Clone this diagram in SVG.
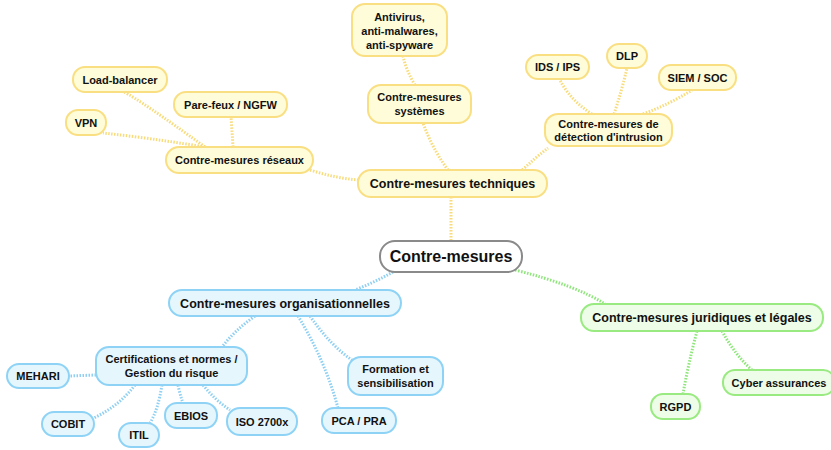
<svg xmlns="http://www.w3.org/2000/svg" width="831" height="450" viewBox="0 0 831 450">
<style>
text{font-family:"Liberation Sans",Arial,sans-serif;font-weight:bold;fill:#111;text-anchor:middle}
.y rect{fill:#fefcd9;stroke:#f9df82;stroke-width:2}
.b rect{fill:#e5f6fd;stroke:#8ed3f6;stroke-width:2}
.g rect{fill:#edfde7;stroke:#99ea80;stroke-width:2}
.r rect{fill:#fff;stroke:#8a8a8a;stroke-width:2}
.t16{font-size:16px}.t13{font-size:12.5px}.t11{font-size:11px}
#connectors path{fill:none;stroke-width:3;stroke-dasharray:1.5 1.5}
.cy{stroke:#f8dc7c}.cb{stroke:#8fd0f2}.cg{stroke:#8ee67a}
</style>
<g id="connectors">
<path class="cy" d="M451 197 L451 241"/>
<path class="cy" d="M310 170 Q335 178 358 180"/>
<path class="cy" d="M520 172 Q535 158 548 148"/>
<path class="cy" d="M448 170 Q432 148 423 123"/>
<path class="cy" d="M415 85 Q406 70 403 56"/>
<path class="cy" d="M205 147 Q140 100 124 92"/>
<path class="cy" d="M205 147 Q150 138 103 133"/>
<path class="cy" d="M233 147 Q232 130 231 117"/>
<path class="cy" d="M592 114 Q570 100 560 80"/>
<path class="cy" d="M614 114 Q622 90 627 68"/>
<path class="cy" d="M643 114 Q670 104 692 90"/>
<path class="cb" d="M393 272 Q375 282 355 290"/>
<path class="cb" d="M255 316 Q235 330 222 347"/>
<path class="cb" d="M298 316 Q325 360 338 408"/>
<path class="cb" d="M310 316 Q330 345 352 360"/>
<path class="cb" d="M96 375 L69 376"/>
<path class="cb" d="M135 385 Q120 405 94 418"/>
<path class="cb" d="M162 385 Q158 410 150 423"/>
<path class="cb" d="M178 385 Q180 395 183 403"/>
<path class="cb" d="M203 385 Q215 400 230 410"/>
<path class="cg" d="M515 270 Q575 285 605 304"/>
<path class="cg" d="M697 331 Q688 365 683 394"/>
<path class="cg" d="M722 331 Q735 355 752 370"/>
</g>
<g id="root" class="r"><rect x="380" y="241" width="142" height="31" rx="15"/><text class="t16" x="451" y="262">Contre-mesures</text></g>
<g id="techniques" class="y"><rect x="358" y="170" width="189" height="27" rx="13"/><text class="t13" x="452.5" y="188">Contre-mesures techniques</text></g>
<g id="systemes" class="y"><rect x="368" y="85" width="103" height="38" rx="13"/><text class="t11" x="419.5" y="101">Contre-mesures</text><text class="t11" x="419.5" y="115">systèmes</text></g>
<g id="antivirus" class="y"><rect x="352" y="4" width="95" height="52" rx="13"/><text class="t11" x="399.5" y="21">Antivirus,</text><text class="t11" x="399.5" y="35">anti-malwares,</text><text class="t11" x="399.5" y="49">anti-spyware</text></g>
<g id="reseaux" class="y"><rect x="166" y="147" width="147" height="26" rx="13"/><text class="t11" x="239.5" y="164">Contre-mesures réseaux</text></g>
<g id="loadbalancer" class="y"><rect x="73" y="67" width="94" height="25" rx="12"/><text class="t11" x="120" y="83.5">Load-balancer</text></g>
<g id="parefeux" class="y"><rect x="174" y="92" width="113" height="25" rx="12"/><text class="t11" x="230.5" y="108.5">Pare-feux / NGFW</text></g>
<g id="vpn" class="y"><rect x="66" y="110" width="40" height="25" rx="12"/><text class="t11" x="86" y="126.5">VPN</text></g>
<g id="detection" class="y"><rect x="545" y="114" width="127" height="32" rx="13"/><text class="t11" x="608.5" y="128">Contre-mesures de</text><text class="t11" x="608.5" y="141">détection d'intrusion</text></g>
<g id="idsips" class="y"><rect x="526" y="55" width="63" height="24" rx="12"/><text class="t11" x="557.5" y="71">IDS / IPS</text></g>
<g id="dlp" class="y"><rect x="607" y="44" width="40" height="24" rx="12"/><text class="t11" x="627" y="60">DLP</text></g>
<g id="siem" class="y"><rect x="659" y="65" width="77" height="25" rx="12"/><text class="t11" x="697.5" y="81.5">SIEM / SOC</text></g>
<g id="organisationnelles" class="b"><rect x="169" y="290" width="232" height="26" rx="13"/><text class="t13" x="285" y="307.5">Contre-mesures organisationnelles</text></g>
<g id="certifications" class="b"><rect x="96" y="347" width="151" height="38" rx="13"/><text class="t11" x="171.5" y="363">Certifications et normes /</text><text class="t11" x="171.5" y="377">Gestion du risque</text></g>
<g id="mehari" class="b"><rect x="7" y="364" width="62" height="24" rx="12"/><text class="t11" x="38" y="380">MEHARI</text></g>
<g id="cobit" class="b"><rect x="42" y="412" width="52" height="24" rx="12"/><text class="t11" x="68" y="428">COBIT</text></g>
<g id="itil" class="b"><rect x="119" y="423" width="40" height="24" rx="12"/><text class="t11" x="139" y="439">ITIL</text></g>
<g id="ebios" class="b"><rect x="165" y="403" width="52" height="25" rx="12"/><text class="t11" x="191" y="419.5">EBIOS</text></g>
<g id="iso" class="b"><rect x="227" y="408" width="70" height="27" rx="13"/><text class="t11" x="262" y="425.5">ISO 2700x</text></g>
<g id="pcapra" class="b"><rect x="322" y="408" width="74" height="25" rx="12"/><text class="t11" x="359" y="424.5">PCA / PRA</text></g>
<g id="formation" class="b"><rect x="348" y="357" width="95" height="38" rx="13"/><text class="t11" x="395.5" y="373">Formation et</text><text class="t11" x="395.5" y="387">sensibilisation</text></g>
<g id="juridiques" class="g"><rect x="581" y="304" width="242" height="27" rx="13"/><text class="t13" x="702" y="322">Contre-mesures juridiques et légales</text></g>
<g id="rgpd" class="g"><rect x="651" y="394" width="49" height="25" rx="12"/><text class="t11" x="675.5" y="410.5">RGPD</text></g>
<g id="cyber" class="g"><rect x="723" y="370" width="112" height="25" rx="12"/><text class="t11" x="779" y="386.5">Cyber assurances</text></g>
</svg>
